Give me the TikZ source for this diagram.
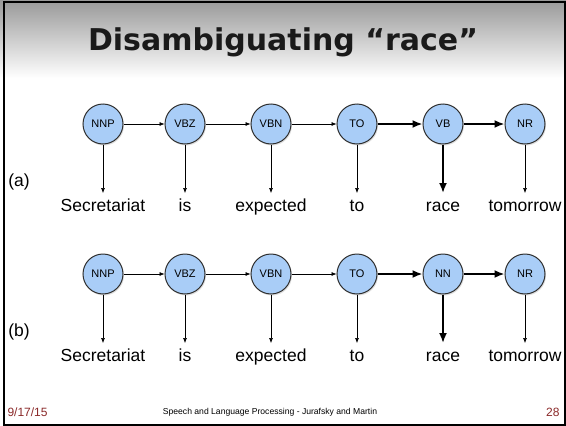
\documentclass[tikz,border=0pt]{standalone}
\usepackage{fontspec}
\setmainfont{Liberation Sans}
\newfontfamily\titlefont{DejaVu Sans}
\usepackage{xcolor}
\usepackage{tikz}
\usetikzlibrary{arrows.meta, positioning, calc, shadows}
\definecolor{tagfill}{HTML}{A9CDF7}
\definecolor{tagline}{HTML}{2F2F2F}
\definecolor{footred}{HTML}{8B2A2A}
\definecolor{titleink}{HTML}{1A1A1A}

\begin{document}
\begin{tikzpicture}[x=1pt, y=-1pt,
    tag/.style={circle, draw=tagline, fill=tagfill, line width=1pt,
                minimum size=40pt, inner sep=0pt, font=\fontsize{11}{13}\selectfont,
                drop shadow={opacity=0.25, shadow xshift=1pt, shadow yshift=-1.5pt}},
    word/.style={anchor=base, inner sep=0pt, outer ysep=5.5pt,
                 text height=12.5pt, text depth=3.5pt, font=\fontsize{17.5}{20}\selectfont},
    thinarr/.style={-{Latex[length=5pt,width=4pt]}, line width=0.6pt},
    thickarr/.style={-{Latex[length=10pt,width=8pt]}, line width=1.8pt}]
\useasboundingbox (0,0) rectangle (566,426);
% Slide background
\fill[white] (0,0) rectangle (566,426);
\shade[top color=gray!80, bottom color=white] (0,0) rectangle (566,78);
\draw[line width=2pt] (3.5,2) rectangle (564.5,425);
% Title
\node[font=\titlefont\bfseries\fontsize{30}{36}\selectfont, text=titleink, anchor=base]
    (title) at (283,50) {Disambiguating “race”};
% Both tag sequences
\foreach \r/\yy/\lab/\tagv in {a/124/(a)/VB, b/274/(b)/NN} {
    \node[font=\fontsize{17.5}{20}\selectfont] (lab\r) at (19,\yy+58) {\lab};
    \foreach \t/\xx [count=\i] in {NNP/103, VBZ/185, VBN/271, TO/357, \tagv/443, NR/525} {
        \node[tag] (t\r\i) at (\xx,\yy) {\t};
    }
    \foreach \w/\xx [count=\i] in {Secretariat/103, is/185, expected/271, to/357, race/443, tomorrow/525} {
        \node[word] (w\r\i) at (\xx,\yy+87) {\w};
    }
    % Transitions
    \foreach \i/\j/\s in {1/2/thinarr, 2/3/thinarr, 3/4/thinarr, 4/5/thickarr, 5/6/thickarr} {
        \draw[\s] (t\r\i) -- (t\r\j);
    }
    % Emissions
    \foreach \i/\s in {1/thinarr, 2/thinarr, 3/thinarr, 4/thinarr, 5/thickarr, 6/thinarr} {
        \draw[\s] (t\r\i) -- (w\r\i);
    }
}
% Footer
\node[anchor=base west, text=footred, font=\fontsize{12}{14}\selectfont] (date) at (4,416) {9/17/15};
\node[anchor=base, font=\fontsize{8.6}{10}\selectfont] (foot) at (270,414)
    {Speech and Language Processing - Jurafsky and Martin};
\node[anchor=base east, text=footred, font=\fontsize{12}{14}\selectfont] (page) at (563,416) {28};
\end{tikzpicture}
\end{document}
